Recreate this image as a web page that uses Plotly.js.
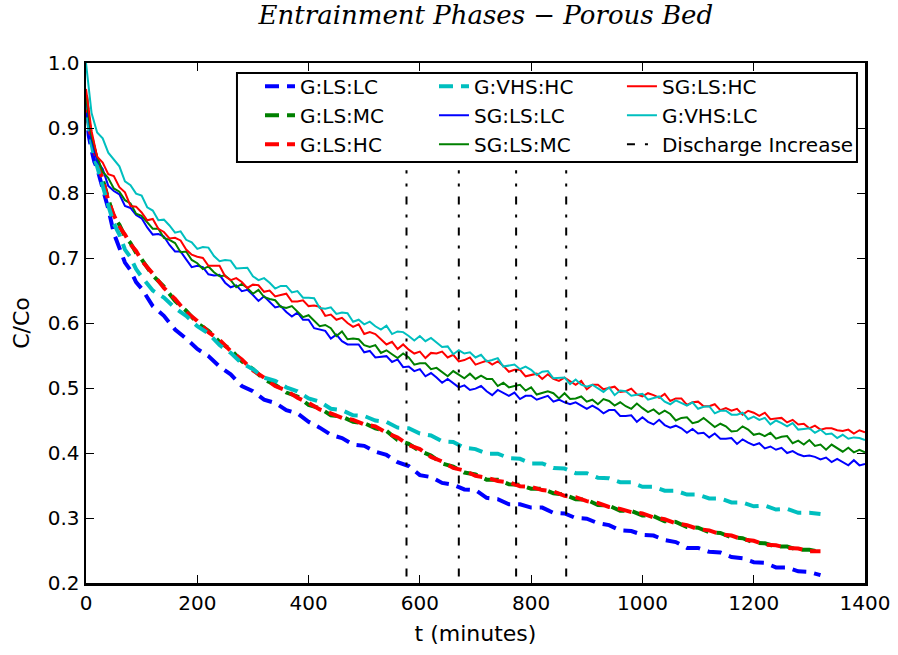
<!DOCTYPE html>
<html>
<head>
<meta charset="utf-8">
<script src="https://cdn.plot.ly/plotly-3.0.1.min.js"></script>
<style>html,body{margin:0;padding:0;background:#fff;}#chart{width:898px;height:655px;}</style>
</head>
<body>
<div id="chart"></div>
<script>
// time axes (minutes)
const tS = [0,10,20,30,40,50,60,70,80,90,
100,110,120,130,140,150,160,170,180,190,
200,210,220,230,240,250,260,270,280,290,
300,310,320,330,340,350,360,370,380,390,
400,410,420,430,440,450,460,470,480,490,
500,510,520,530,540,550,560,570,580,590,
600,610,620,630,640,650,660,670,680,690,
700,710,720,730,740,750,760,770,780,790,
800,810,820,830,840,850,860,870,880,890,
900,910,920,930,940,950,960,970,980,990,
1000,1010,1020,1030,1040,1050,1060,1070,1080,1090,
1100,1110,1120,1130,1140,1150,1160,1170,1180,1190,
1200,1210,1220,1230,1240,1250,1260,1270,1280,1290,
1300,1310,1320,1330,1340,1350,1360,1370,1380,1390,
1400];
const tG = [0,5,10,15,20,30,40,50,60,70,80,90,100,120,140,160,180,200,220,240,260,280,300,320,340,360,380,400,420,440,460,480,500,520,540,560,580,600,620,640,660,680,700,720,740,760,780,800,820,840,860,880,900,920,940,960,980,1000,1020,1040,1060,1080,1100,1120,1140,1160,1180,1200,1220,1240,1260,1280,1300,1320];

// G series (dashed)
const gLSLC = [0.930,0.888,0.866,0.848,0.838,0.808,0.776,0.738,0.716,0.693,
0.681,0.663,0.653,0.626,0.611,0.590,0.576,0.560,0.549,0.533,
0.521,0.503,0.495,0.482,0.477,0.466,0.461,0.448,0.439,0.428,
0.423,0.413,0.411,0.402,0.397,0.386,0.380,0.366,0.363,0.354,
0.351,0.344,0.343,0.331,0.329,0.321,0.321,0.316,0.316,0.308,
0.307,0.300,0.299,0.292,0.289,0.281,0.280,0.274,0.273,0.266,
0.263,0.254,0.254,0.248,0.247,0.240,0.238,0.232,0.231,0.224,
0.224,0.218,0.217,0.212];
const gLSMC = [0.950,0.908,0.886,0.863,0.851,0.818,0.791,0.763,0.751,0.733,
0.723,0.708,0.698,0.673,0.656,0.634,0.619,0.600,0.588,0.571,
0.559,0.541,0.529,0.513,0.505,0.493,0.487,0.474,0.469,0.458,
0.456,0.448,0.446,0.438,0.434,0.420,0.414,0.403,0.396,0.384,
0.379,0.370,0.367,0.359,0.359,0.352,0.351,0.345,0.345,0.338,
0.336,0.329,0.328,0.320,0.319,0.311,0.311,0.304,0.303,0.295,
0.294,0.286,0.285,0.278,0.277,0.270,0.269,0.262,0.261,0.256,
0.256,0.251,0.251,0.248];
const gLSHC = [0.945,0.905,0.884,0.866,0.849,0.821,0.789,0.766,0.748,0.736,
0.721,0.711,0.696,0.676,0.654,0.637,0.617,0.603,0.586,0.574,
0.557,0.544,0.527,0.516,0.503,0.496,0.485,0.477,0.467,0.461,
0.454,0.451,0.444,0.441,0.431,0.424,0.412,0.406,0.394,0.387,
0.377,0.373,0.365,0.362,0.357,0.355,0.349,0.348,0.343,0.341,
0.334,0.332,0.326,0.323,0.317,0.314,0.309,0.307,0.301,0.298,
0.292,0.289,0.283,0.281,0.275,0.273,0.267,0.265,0.259,0.258,
0.254,0.253,0.249,0.249];
const gVHSHC = [0.950,0.903,0.876,0.853,0.841,0.808,0.781,0.753,0.736,0.713,
0.701,0.683,0.671,0.650,0.639,0.623,0.611,0.595,0.584,0.566,
0.554,0.538,0.529,0.516,0.511,0.501,0.495,0.484,0.479,0.468,
0.466,0.458,0.457,0.450,0.448,0.439,0.438,0.430,0.427,0.418,
0.417,0.408,0.406,0.399,0.399,0.392,0.391,0.384,0.384,0.377,
0.376,0.369,0.369,0.362,0.361,0.355,0.355,0.348,0.348,0.342,
0.342,0.336,0.336,0.330,0.330,0.324,0.324,0.318,0.319,0.313,
0.314,0.308,0.308,0.306];

// SG series + G:VHS:LC (solid), one value per 10 minutes
const sgLSLC = [0.950,0.883,0.849,0.837,0.811,0.803,0.798,0.780,0.777,0.766,
0.761,0.747,0.736,0.737,0.733,0.720,0.710,0.710,0.698,0.686,
0.688,0.686,0.675,0.673,0.674,0.662,0.655,0.658,0.649,0.651,
0.643,0.634,0.641,0.633,0.624,0.626,0.617,0.610,0.616,0.605,
0.605,0.592,0.590,0.588,0.576,0.582,0.572,0.567,0.567,0.567,
0.555,0.557,0.547,0.548,0.549,0.540,0.544,0.532,0.533,0.526,
0.529,0.518,0.523,0.516,0.508,0.514,0.507,0.501,0.504,0.497,
0.499,0.503,0.495,0.489,0.497,0.492,0.488,0.493,0.483,0.488,
0.488,0.482,0.485,0.488,0.479,0.482,0.478,0.475,0.478,0.473,
0.468,0.473,0.468,0.461,0.466,0.466,0.457,0.457,0.458,0.448,
0.455,0.448,0.444,0.451,0.443,0.439,0.442,0.438,0.431,0.437,
0.430,0.431,0.424,0.430,0.422,0.422,0.423,0.414,0.421,0.416,
0.412,0.415,0.407,0.410,0.405,0.408,0.400,0.403,0.398,0.395,
0.396,0.394,0.390,0.393,0.386,0.391,0.386,0.381,0.389,0.381,
0.383];
const sgLSMC = [0.950,0.887,0.856,0.833,0.823,0.807,0.802,0.789,0.784,0.768,
0.765,0.755,0.745,0.745,0.731,0.728,0.723,0.709,0.710,0.697,
0.692,0.683,0.687,0.678,0.672,0.673,0.666,0.655,0.660,0.654,
0.645,0.651,0.640,0.637,0.635,0.625,0.623,0.626,0.617,0.609,
0.612,0.603,0.595,0.597,0.592,0.580,0.587,0.575,0.576,0.575,
0.566,0.563,0.566,0.554,0.558,0.552,0.546,0.553,0.547,0.536,
0.538,0.538,0.529,0.531,0.524,0.518,0.526,0.520,0.515,0.522,
0.514,0.519,0.514,0.514,0.503,0.508,0.501,0.503,0.505,0.496,
0.501,0.490,0.493,0.495,0.492,0.484,0.492,0.483,0.484,0.487,
0.479,0.482,0.475,0.483,0.480,0.473,0.478,0.472,0.468,0.476,
0.469,0.463,0.467,0.460,0.465,0.460,0.450,0.454,0.455,0.446,
0.448,0.454,0.447,0.440,0.445,0.441,0.433,0.434,0.441,0.436,
0.428,0.430,0.426,0.431,0.422,0.425,0.426,0.415,0.419,0.413,
0.420,0.411,0.413,0.405,0.413,0.407,0.402,0.408,0.401,0.405,
0.401];
const sgLSHC = [0.960,0.895,0.856,0.847,0.829,0.826,0.809,0.801,0.780,0.779,
0.770,0.758,0.760,0.745,0.740,0.730,0.731,0.727,0.713,0.705,
0.702,0.700,0.688,0.688,0.688,0.672,0.666,0.669,0.663,0.654,
0.659,0.658,0.648,0.650,0.641,0.643,0.645,0.633,0.633,0.635,
0.626,0.627,0.625,0.611,0.613,0.605,0.608,0.600,0.594,0.598,
0.583,0.586,0.583,0.575,0.567,0.571,0.560,0.567,0.559,0.553,
0.556,0.546,0.554,0.553,0.556,0.547,0.551,0.541,0.543,0.547,
0.536,0.539,0.542,0.536,0.541,0.534,0.525,0.528,0.528,0.518,
0.520,0.522,0.514,0.521,0.514,0.511,0.516,0.511,0.505,0.511,
0.498,0.505,0.505,0.498,0.500,0.502,0.494,0.495,0.499,0.490,
0.487,0.492,0.489,0.485,0.491,0.480,0.484,0.484,0.474,0.478,
0.479,0.472,0.472,0.475,0.466,0.469,0.465,0.468,0.459,0.465,
0.462,0.457,0.462,0.452,0.453,0.454,0.447,0.451,0.444,0.445,
0.438,0.442,0.436,0.438,0.438,0.435,0.434,0.436,0.430,0.435,
0.432];
const gVHSLC = [1.000,0.923,0.893,0.884,0.862,0.852,0.841,0.818,0.812,0.799,
0.796,0.778,0.773,0.758,0.759,0.750,0.739,0.741,0.728,0.724,
0.714,0.717,0.716,0.703,0.695,0.697,0.696,0.684,0.685,0.685,
0.672,0.666,0.669,0.662,0.653,0.657,0.657,0.647,0.649,0.639,
0.639,0.638,0.623,0.622,0.624,0.614,0.616,0.615,0.602,0.605,
0.598,0.602,0.595,0.590,0.596,0.583,0.587,0.586,0.580,0.573,
0.580,0.572,0.577,0.570,0.563,0.564,0.552,0.558,0.553,0.555,
0.547,0.551,0.541,0.543,0.546,0.533,0.534,0.536,0.529,0.533,
0.528,0.520,0.525,0.526,0.515,0.515,0.516,0.506,0.513,0.505,
0.502,0.505,0.500,0.494,0.501,0.489,0.496,0.495,0.488,0.489,
0.491,0.482,0.484,0.487,0.479,0.475,0.481,0.477,0.473,0.478,
0.468,0.471,0.472,0.461,0.465,0.465,0.459,0.459,0.462,0.452,
0.456,0.451,0.454,0.444,0.450,0.446,0.441,0.446,0.436,0.437,
0.438,0.431,0.436,0.429,0.430,0.423,0.428,0.422,0.424,0.423,
0.420];

// discharge increase times (minutes) and vertical extent
const dischargeT = [576, 670, 773, 863];
const dischargeY = [0.21, 0.835];

const xTicks = [0,200,400,600,800,1000,1200,1400];
const yTicks = [0.2,0.3,0.4,0.5,0.6,0.7,0.8,0.9,1.0];

const BLUE='#0000ff', GREEN='#008000', RED='#ff0000', CYAN='#00bfbf';
const DASH='14px,8px';

function dashed(name, y, color, lg, rank){
  return {x:tG, y:y, name:name, type:'scatter', mode:'lines', legend:lg, legendrank:rank, legendgroup:name,
    line:{color:color, width:4, dash:DASH}};
}
function solid(name, y, color, lg, rank){
  return {x:tS, y:y, name:name, type:'scatter', mode:'lines', legend:lg, legendrank:rank, legendgroup:name,
    line:{color:color, width:2}};
}
const dx=[], dy=[];
dischargeT.forEach(t=>{dx.push(t,t,null); dy.push(dischargeY[0],dischargeY[1],null);});

const traces = [
  dashed('G:LS:LC', gLSLC, BLUE, 'legend', 1),
  dashed('G:LS:MC', gLSMC, GREEN, 'legend', 2),
  dashed('G:LS:HC', gLSHC, RED, 'legend', 3),
  dashed('G:VHS:HC', gVHSHC, CYAN, 'legend2', 1),
  solid('SG:LS:LC', sgLSLC, BLUE, 'legend2', 2),
  solid('SG:LS:MC', sgLSMC, GREEN, 'legend2', 3),
  solid('SG:LS:HC', sgLSHC, RED, 'legend3', 1),
  solid('G:VHS:LC', gVHSLC, CYAN, 'legend3', 2),
  {x:dx, y:dy, name:'Discharge Increase', type:'scatter', mode:'lines', legend:'legend3', legendrank:3,
   legendgroup:'dis', connectgaps:false, line:{color:'#000', width:2, dash:'8px,10px,3px,10px'}}
];

const axisCommon = {
  showline:true, linecolor:'#000', linewidth:2.5, mirror:'allticks',
  ticks:'inside', ticklen:8, tickwidth:1, tickcolor:'#000',
  showgrid:false, zeroline:false,
  tickfont:{family:'DejaVu Sans', size:20, color:'#000'}
};

const LEGFONT = {family:'DejaVu Sans', size:20, color:'#000'};
function leg(x){
  return {orientation:'v', x:x, y:0.9927, xanchor:'left', yanchor:'top', bgcolor:'rgba(0,0,0,0)',
    borderwidth:0, font:LEGFONT, traceorder:'grouped', tracegroupgap:0, itemwidth:30};
}

const layout = {
  width:898, height:655,
  margin:{l:86, r:33, t:63, b:72},
  paper_bgcolor:'#fff', plot_bgcolor:'#fff',
  title:{text:'Entrainment Phases \u2212 Porous Bed', x:0.541, xref:'container', xanchor:'center',
    y:0.977, yref:'container', yanchor:'middle',
    font:{family:'DejaVu Serif', size:26, style:'italic', color:'#000'}},
  xaxis:Object.assign({}, axisCommon, {range:[0,1400], tickvals:xTicks, ticktext:xTicks.map(String),
    title:{text:'t (minutes)', standoff:12, font:{family:'DejaVu Sans', size:22, color:'#000'}}}),
  yaxis:Object.assign({}, axisCommon, {range:[0.2,1.0], tickvals:yTicks, ticktext:yTicks.map(v=>v.toFixed(1)),
    title:{text:'C/Co', standoff:12, font:{family:'DejaVu Sans', size:22, color:'#000'}}}),
  showlegend:true,
  legend:leg(0.2234),
  legend2:leg(0.4467),
  legend3:leg(0.688),
  shapes:[{type:'rect', xref:'paper', yref:'paper', x0:0.1938, x1:0.9897, y0:0.8096, y1:0.9808,
    line:{color:'#000', width:2}, fillcolor:'#fff', layer:'above'}]
};

Plotly.newPlot('chart', traces, layout, {staticPlot:true, displayModeBar:false});
</script>
</body>
</html>
